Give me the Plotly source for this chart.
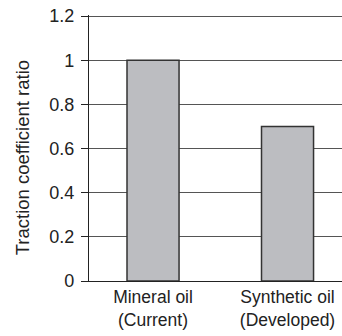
import plotly.graph_objects as go

categories = ["Mineral oil<br>(Current)", "Synthetic oil<br>(Developed)"]
values = [1.0, 0.7]
y_ticks = [0, 0.2, 0.4, 0.6, 0.8, 1.0, 1.2]
y_tick_labels = ["0", "0.2", "0.4", "0.6", "0.8", "1", "1.2"]
y_title = "Traction coefficient ratio"

FONT = "Liberation Sans, Arial, sans-serif"

fig = go.Figure(go.Bar(
    x=categories, y=values, width=0.387,
    marker=dict(color="#BCBDC1", line=dict(color="#333333", width=1.5)),
    hoverinfo="skip",
))

fig.update_layout(
    width=342, height=336,
    margin=dict(l=89, r=0, t=15, b=55),
    plot_bgcolor="white", paper_bgcolor="white",
    font=dict(family=FONT, size=18, color="#222222"),
    showlegend=False,
    annotations=[dict(
        text=y_title, textangle=-90, xref="paper", yref="paper",
        x=-0.262, y=0.464, xanchor="center", yanchor="middle",
        showarrow=False, font=dict(size=18.5, family=FONT, color="#222222"),
    )],
)
fig.update_xaxes(
    range=[-0.476, 1.405], showgrid=False, showline=True, linecolor="#222222",
    linewidth=1.2, ticks="", tickfont=dict(size=17.5),
)
fig.update_yaxes(
    range=[0, 1.205], tickvals=y_ticks, ticktext=y_tick_labels,
    showgrid=True, gridcolor="#555555", gridwidth=1,
    showline=True, linecolor="#222222", linewidth=1.2,
    ticks="outside", ticklen=7, tickcolor="#222222",
    ticklabelstandoff=3,
    tickfont=dict(size=18), zeroline=False,
)
# remove the browser's default 8px body margin so the figure fills the window
fig.write_html("out.html", config={"displayModeBar": False},
               post_script="document.body.style.margin='0';")
